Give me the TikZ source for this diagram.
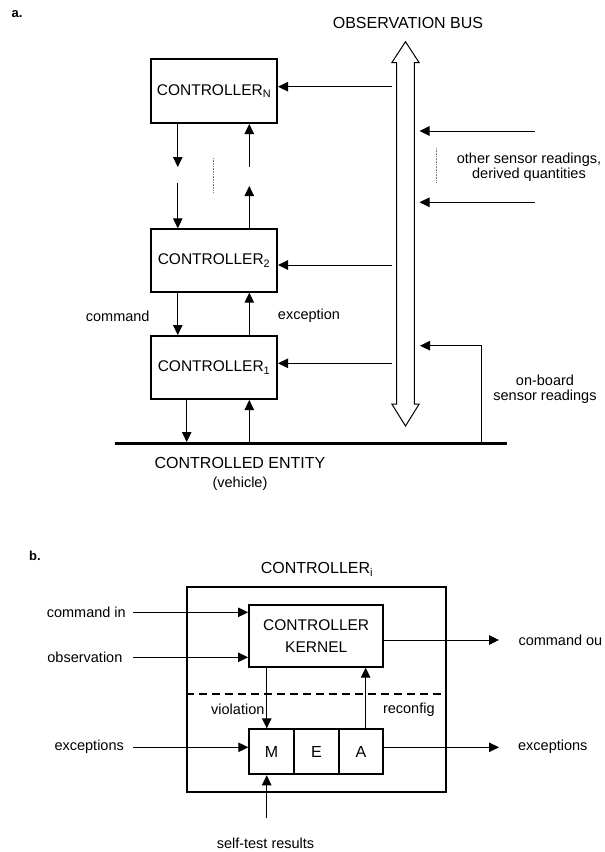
\documentclass[tikz,border=0pt]{standalone}
\usepackage{fontspec}
\setmainfont{Liberation Sans}
\usetikzlibrary{arrows.meta}
\begin{document}
\begin{tikzpicture}[x=1pt,y=-1pt,
  box/.style={draw, line width=2pt, inner sep=0pt, font=\fontsize{15.5}{22}\selectfont},
  cell/.style={draw, line width=2pt, inner sep=0pt, minimum width=44.7pt, minimum height=45pt, font=\fontsize{16}{19}\selectfont},
  lab/.style={inner sep=0pt, font=\fontsize{14.5}{15}\selectfont},
  big/.style={inner sep=0pt, font=\fontsize{16}{19}\selectfont},
  tag/.style={inner sep=0pt, font=\fontsize{13}{15}\selectfont\bfseries},
  arr/.style={-{Triangle[length=10pt,width=9.5pt]}, line width=1pt},
  dotline/.style={gray, line width=0.8pt, dash pattern=on 0.8pt off 0.8pt},
  bus/.style={line width=1pt, fill=white}
]
\useasboundingbox (0,0) rectangle (605,852);

% ---------- part a ----------
\node[tag] (ta) at (17,14) {a.};
\node[big] (busT) at (408,23) {OBSERVATION BUS};

\node[box, minimum width=126pt, minimum height=64pt] (cN) at (214,91) {CONTROLLER\textsubscript{N}};
\node[box, minimum width=126pt, minimum height=62.4pt] (c2) at (214,260.5) {CONTROLLER\textsubscript{2}};
\node[box, minimum width=126pt, minimum height=63pt] (c1) at (214,367.5) {CONTROLLER\textsubscript{1}};

% bus
\draw[bus] (405.5,41.7) -- (419.2,62.7) -- (414.3,62.7) -- (414.3,404) -- (419.2,404)
  -- (405.5,426) -- (391.8,404) -- (396.7,404) -- (396.7,62.7) -- (391.8,62.7) -- cycle;

% bus -> controllers
\coordinate (bN) at (392,86.7);
\coordinate (b2) at (392,265);
\coordinate (b1) at (392,363.3);
\draw[arr] (bN) -- (bN -| cN.east);
\draw[arr] (b2) -- (b2 -| c2.east);
\draw[arr] (b1) -- (b1 -| c1.east);

% sensor readings into bus
\coordinate (s1) at (535,131);
\coordinate (s1e) at (419.5,131);
\coordinate (s2) at (535,202.3);
\coordinate (s2e) at (419.5,202.3);
\draw[arr] (s1) -- (s1e);
\draw[arr] (s2) -- (s2e);
\draw[dotline] (436.7,148) -- (436.7,183);
\node[lab, align=center] (lother) at (529,167.5) {other sensor readings,\\derived quantities};

% controller chain
\draw[arr] ([xshift=-36.2pt]cN.south) -- ++(0,43);
\coordinate (u1) at (249.3,166.7);
\draw[arr] (u1) -- (u1 |- cN.south);
\coordinate (d1) at (177.8,183);
\draw[arr] (d1) -- (d1 |- c2.north);
\draw[arr] ([xshift=35.3pt]c2.north) -- ++(0,-42.3);
\draw[dotline] (213.5,158) -- (213.5,193);

\draw[arr] ([xshift=-36.2pt]c2.south) -- ([xshift=-36.2pt]c1.north);
\draw[arr] ([xshift=35.3pt]c1.north) -- ([xshift=35.3pt]c2.south);
\node[lab] (lcmd) at (117.7,316) {command};
\node[lab] (lexc) at (309,316) {exception};

% controlled entity
\coordinate (gL) at (115,443.3);
\coordinate (gR) at (507.3,443.3);
\draw[line width=3pt] (gL) -- (gR);
\coordinate (g1) at (186.7,442);
\coordinate (g2) at (249.3,442);
\draw[arr] (g1 |- c1.south) -- (g1);
\draw[arr] (g2) -- (g2 |- c1.south);
\coordinate (ob0) at (481,442);
\coordinate (ob1) at (420,345.7);
\draw[arr] (ob0) |- (ob1);
\node[lab, align=center] (lonb) at (545,389) {on-board\\sensor readings};
\node[big] (lent) at (240,463.3) {CONTROLLED ENTITY};
\node[lab] (lveh) at (240,483.3) {(vehicle)};

% ---------- part b ----------
\node[tag] (tb) at (35,556) {b.};
\node[big] (ti) at (317,569.3) {CONTROLLER\textsubscript{i}};
\node[draw, line width=2pt, minimum width=259pt, minimum height=205pt, inner sep=0pt] (outer) at (316.2,689.2) {};
\node[box, minimum width=134.3pt, minimum height=61.7pt, align=center] (kern) at (316.2,635.8) {CONTROLLER\\KERNEL};
\coordinate (dsh) at (0,694);
\draw[line width=2.5pt, dash pattern=on 8pt off 5pt] (dsh -| outer.west) -- (dsh -| outer.east);

\node[cell] (M) at (271.65,751.8) {M};
\node[cell] (E) at (316.35,751.8) {E};
\node[cell] (A) at (361.05,751.8) {A};

\coordinate (ci) at (133.3,612.3);
\coordinate (ob) at (133.3,657.3);
\coordinate (co) at (499,640);
\draw[arr] (ci) -- (ci -| kern.west);
\draw[arr] (ob) -- (ob -| kern.west);
\draw[arr] (co -| kern.east) -- (co);

\coordinate (vt) at ([xshift=-4.9pt]M.north);
\coordinate (rt) at ([xshift=4.6pt]A.north);
\draw[arr] (vt |- kern.south) -- (vt);
\draw[arr] (rt) -- (rt |- kern.south);

\coordinate (ei) at (133.3,747.3);
\coordinate (eo) at (499,747.3);
\draw[arr] (ei) -- (ei -| M.west);
\draw[arr] (eo -| A.east) -- (eo);
\coordinate (st) at (266.7,818.3);
\draw[arr] (st) -- (st |- M.south);

\node[lab] (lci) at (86.3,612.3) {command in};
\node[lab] (lob) at (84.9,657.3) {observation};
\node[lab] (lei) at (89.2,746.5) {exceptions};
\node[lab, anchor=west] (lco) at (518.3,640) {command ou};
\node[lab] (leo) at (552.8,746.5) {exceptions};
\node[lab] (lvi) at (237.8,709.3) {violation};
\node[lab] (lre) at (408.8,709.3) {reconfig};
\node[lab] (lst) at (265.5,843.3) {self-test results};
\end{tikzpicture}
\end{document}
